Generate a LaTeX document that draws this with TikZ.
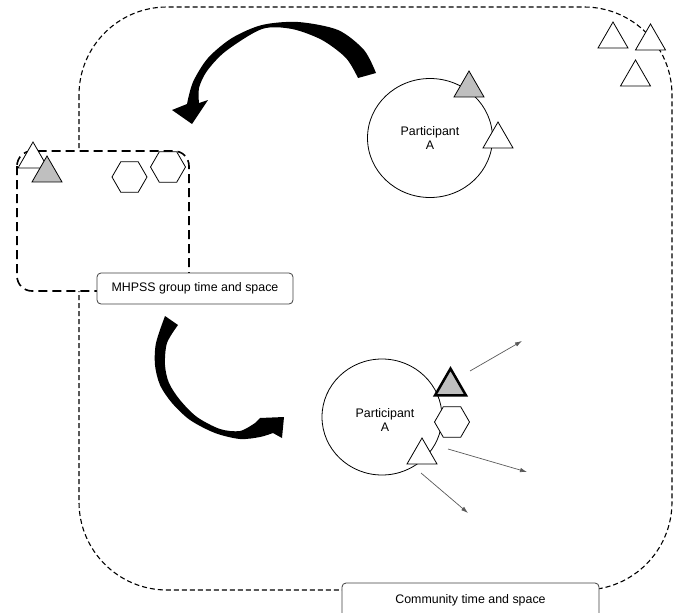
\documentclass[tikz,border=0pt]{standalone}
\usepackage{fontspec}
\setmainfont{Liberation Sans}
\usetikzlibrary{shapes.geometric,arrows.meta}
\begin{document}
\begin{tikzpicture}[x=1pt,y=-1pt,
  every node/.style={font=\fontsize{12.4}{14}\selectfont},
  tri/.style={regular polygon, regular polygon sides=3, draw, fill=white, inner sep=0pt, minimum size=34.6pt, line width=0.8pt},
  gtri/.style={tri, fill=black!25},
  hex/.style={regular polygon, regular polygon sides=6, draw, fill=white, inner sep=0pt, minimum size=35pt, line width=0.8pt},
  partcirc/.style={ellipse, draw, line width=0.8pt, inner sep=0pt, align=center},
  tagbox/.style={draw=black!75, rounded corners=4pt, fill=white, line width=0.8pt, inner sep=0pt},
  thinarrow/.style={draw=black!65, line width=0.7pt, -{Latex[length=7pt,width=4.5pt]}},
  bigarrow/.style={fill=black},
  outerdash/.style={draw=black, line width=1.1pt, dash pattern=on 5pt off 3pt, rounded corners=88pt},
  groupdash/.style={draw=black, line width=1.6pt, dash pattern=on 9pt off 5pt, rounded corners=15pt, fill=white},
]
\useasboundingbox (0,0) rectangle (680,613);
\clip (0,0) rectangle (680,613);

% community space
\draw[outerdash] (79,7) rectangle (672,590);

% group space
\draw[groupdash] (17,151) rectangle (189,291);

% participants
\node[partcirc, minimum width=125pt, minimum height=119pt] (pA) at (430,138) {Participant\\A};
\node[partcirc, minimum width=120pt, minimum height=116pt] (pB) at (382,417) {};
\node[align=center, inner sep=0pt] (pBt) at (385,420) {Participant\\A};

% big curved arrows
\fill[bigarrow] plot[smooth] coordinates {(376,73) (364,50) (338,30) (298,22) (262,25) (232,38) (208,58) (193,82) (187,104)}
  -- (172,110) -- (192,124) -- (208,100) --
  plot[smooth] coordinates {(199,103) (199,88) (207,71) (226,51) (262,29) (292,29) (322,40) (346,58) (358,78)} -- cycle;

\fill[bigarrow] plot[smooth] coordinates {(165,316) (156,343) (155,365) (160,385) (172,403) (190,420) (215,433) (240,439) (260,437) (273,433)}
  -- (282,438) -- (284,417) -- (260,418) --
  plot[smooth] coordinates {(255,423) (240,431) (220,429) (197,417) (180,400) (169,383) (165,365) (167,343) (178,325)} -- cycle;

% thin arrows
\coordinate (a1s) at (470,371); \coordinate (a1e) at (522,341);
\coordinate (a2s) at (448,449); \coordinate (a2e) at (527,472);
\coordinate (a3s) at (421,473); \coordinate (a3e) at (468,513);
\draw[thinarrow] (a1s) -- (a1e);
\draw[thinarrow] (a2s) -- (a2e);
\draw[thinarrow] (a3s) -- (a3e);

% triangles and hexagons in the group space
\node[tri] (t1) at (33,159.3) {};
\node[gtri] (t2) at (47,173.3) {};
\node[hex] (h1) at (129.5,177) {};
\node[hex] (h2) at (168,167) {};

% participant A (top)
\node[gtri] (t3) at (469,88.3) {};
\node[tri] (t4) at (498,139.3) {};

% community triangles
\node[tri] (t5) at (613,39.3) {};
\node[tri] (t6) at (650.5,41.3) {};
\node[tri] (t7) at (635.5,77.3) {};

% participant A (bottom)
\node[hex] (h3) at (452,422) {};
\node[gtri, line width=2.5pt, minimum size=35.8pt] (t8) at (450.5,386.5) {};
\node[tri] (t9) at (422,455.3) {};

% labels
\node[tagbox, minimum width=196pt, minimum height=31pt] (mh) at (195,288.5) {MHPSS group time and space};
\node[tagbox, minimum width=257pt, minimum height=34pt] (cm) at (470.5,600) {};
\node[inner sep=0pt] (cmt) at (470.5,600) {Community time and space};
\end{tikzpicture}
\end{document}
